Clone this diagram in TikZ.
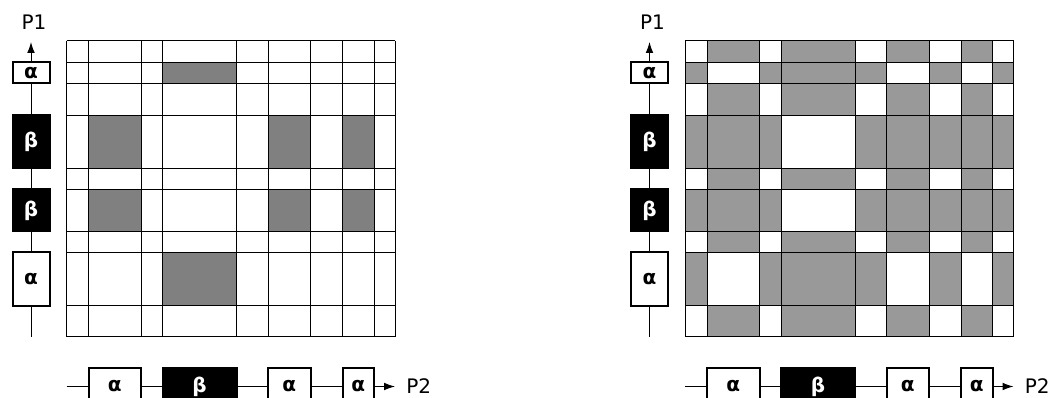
\documentclass[tikz,border=0pt]{standalone}
\usepackage{fontspec}
\setmainfont{DejaVu Sans}
\usetikzlibrary{arrows.meta}
\definecolor{grayL}{HTML}{808080}
\definecolor{grayR}{HTML}{999999}
\tikzset{
  gridline/.style={line width=0.75pt, black},
  axisline/.style={line width=0.75pt, black},
  axisarrow/.style={axisline, -{Latex[length=8.25pt,width=5.8pt]}},
  abox/.style={draw=black, fill=white, line width=1.5pt, inner sep=0pt,
    font=\fontsize{15}{17}\selectfont\bfseries},
  bbox/.style={abox, fill=black, text=white},
  vbox/.style={minimum width=27.75pt},
  hbox/.style={minimum height=27pt},
  plabel/.style={inner sep=0pt, font=\fontsize{15}{17}\selectfont}
}
\def\Xs{{66.5,88.5,141,162.5,236.5,268,310.5,342.5,374,395}}
\def\Ys{{41,62.5,83.5,115.5,168.5,189.5,231.5,252.5,306,337}}
\def\RS{{0,1,0,2,0,2,0,1,0}}
\def\CS{{0,1,0,2,0,1,0,1,0}}
\newcommand\mypanel[2]{%
  \foreach \i in {0,...,8}{
    \foreach \j in {0,...,8}{
      \pgfmathtruncatemacro\rs{\RS[\i]}
      \pgfmathtruncatemacro\cs{\CS[\j]}
      \pgfmathsetmacro\ya{\Ys[\i]}
      \pgfmathsetmacro\yb{\Ys[\i+1]}
      \pgfmathsetmacro\xa{\Xs[\j]}
      \pgfmathsetmacro\xb{\Xs[\j+1]}
      \ifnum#2=0
        \ifnum\numexpr\rs*\cs\relax=2 \fill[grayL] (\xa,\ya) rectangle (\xb,\yb);\fi
      \else
        \ifnum\rs=\cs\relax\else \fill[grayR] (\xa,\ya) rectangle (\xb,\yb);\fi
      \fi
    }
  }
  \foreach \x in {66.5,88.5,141,162.5,236.5,268,310.5,342.5,374,395}
    \draw[gridline] (\x,41) -- (\x,337);
  \foreach \y in {41,62.5,83.5,115.5,168.5,189.5,231.5,252.5,306,337}
    \draw[gridline] (66.5,\y) -- (395,\y);
  % P1 axis
  \coordinate (#1-p1s) at (31,337);
  \coordinate (#1-p1e) at (31,42);
  \node[abox, vbox, minimum height=40.125pt] (#1-v4) at (31,279.25) {α};
  \node[bbox, vbox, minimum height=31.5pt]   (#1-v3) at (31,210.5) {β};
  \node[bbox, vbox, minimum height=39.75pt]  (#1-v2) at (31,142) {β};
  \node[abox, vbox, minimum height=15.75pt]  (#1-v1) at (31,73) {α};
  \draw[axisline] (#1-p1s) -- (#1-v4.south);
  \draw[axisline] (#1-v4.north) -- (#1-v3.south);
  \draw[axisline] (#1-v3.north) -- (#1-v2.south);
  \draw[axisline] (#1-v2.north) -- (#1-v1.south);
  \draw[axisarrow] (#1-v1.north) -- (#1-p1e);
  \node[plabel] (#1-P1) at (34,22) {P1};
  % P2 axis
  \coordinate (#1-p2s) at (66.5,386.5);
  \coordinate (#1-p2e) at (395,386.5);
  \node[abox, hbox, minimum width=39.375pt] (#1-h1) at (114.75,386.5) {α};
  \node[bbox, hbox, minimum width=55.5pt]   (#1-h2) at (199.5,386.5) {β};
  \node[abox, hbox, minimum width=31.875pt] (#1-h3) at (289.25,386.5) {α};
  \node[abox, hbox, minimum width=23.625pt] (#1-h4) at (358.25,386.5) {α};
  \draw[axisline] (#1-p2s) -- (#1-h1.west);
  \draw[axisline] (#1-h1.east) -- (#1-h2.west);
  \draw[axisline] (#1-h2.east) -- (#1-h3.west);
  \draw[axisline] (#1-h3.east) -- (#1-h4.west);
  \draw[axisarrow] (#1-h4.east) -- (#1-p2e);
  \node[plabel, anchor=west] (#1-P2) at (406,386.5) {P2};
}
\begin{document}
\begin{tikzpicture}[x=0.75pt,y=-0.75pt]
\useasboundingbox (0,0) rectangle (1052,398);
\clip (0,0) rectangle (1052,398);
\begin{scope}
\mypanel{L}{0}
\end{scope}
\begin{scope}[xshift=463.875pt]
\mypanel{R}{1}
\end{scope}
\end{tikzpicture}
\end{document}
